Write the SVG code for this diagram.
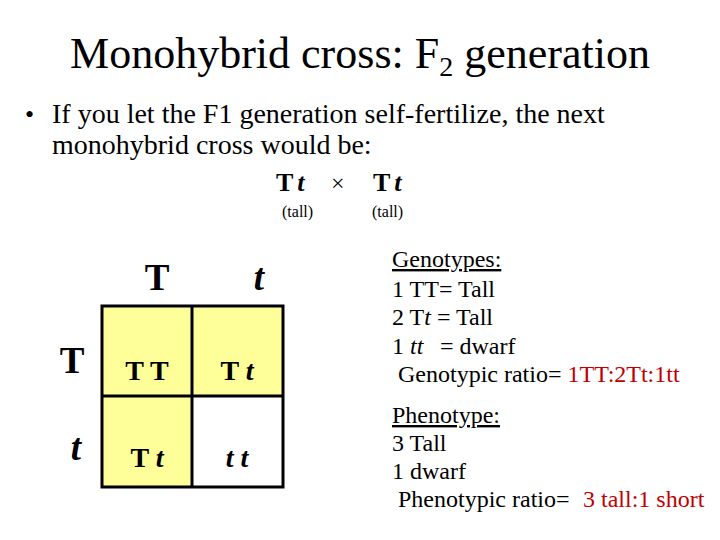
<svg xmlns="http://www.w3.org/2000/svg" width="720" height="540" viewBox="0 0 720 540">
<style>
text{font-family:"Liberation Serif","Times New Roman",serif;fill:#000}
.b{font-weight:bold}
.i{font-style:italic}
.red{fill:#c00000}
.cell{fill:#ffff99;stroke:none}
.g{stroke:#000;stroke-width:3;fill:none}
.rt{font-size:24px}
.h{font-size:37px;font-weight:bold}
.c{font-size:28px;font-weight:bold}
</style>
<rect width="720" height="540" fill="#fff"/>
<g id="title">
<text x="360" y="68" font-size="44" text-anchor="middle">Monohybrid cross: F<tspan font-size="28" dy="8">2</tspan><tspan dy="-8"> generation</tspan></text>
</g>
<g id="bullet">
<text x="25" y="123" font-size="26">•</text>
<text x="52" y="123" font-size="28">If you let the F1 generation self-fertilize, the next</text>
<text x="52" y="154" font-size="28">monohybrid cross would be:</text>
</g>
<g id="cross">
<text x="276" y="191" font-size="26" class="b">T<tspan class="i" dx="4">t</tspan></text>
<text x="331" y="191" font-size="24">×</text>
<text x="373" y="191" font-size="26" class="b">T<tspan class="i" dx="4">t</tspan></text>
<text x="282" y="217" font-size="16">(tall)</text>
<text x="372" y="217" font-size="16">(tall)</text>
</g>
<g id="punnett">
<rect class="cell" x="102" y="306" width="181" height="181"/>
<rect x="192" y="396" width="91" height="91" fill="#fff"/>
<rect class="g" x="102" y="306" width="181" height="181"/>
<line class="g" x1="192" y1="306" x2="192" y2="487"/>
<line class="g" x1="102" y1="396" x2="283" y2="396"/>
<text x="157" y="290" class="h" text-anchor="middle">T</text>
<text x="259" y="290" class="h i" text-anchor="middle">t</text>
<text x="72" y="373" class="h" text-anchor="middle">T</text>
<text x="76" y="460" class="h i" text-anchor="middle">t</text>
<text x="147" y="380" class="c" text-anchor="middle">T T</text>
<text x="237" y="380" class="c" text-anchor="middle">T <tspan class="i">t</tspan></text>
<text x="147" y="467" class="c" text-anchor="middle">T <tspan class="i">t</tspan></text>
<text x="237" y="467" class="c i" text-anchor="middle">t t</text>
</g>
<g id="genotypes">
<text x="392" y="267" class="rt" text-decoration="underline">Genotypes:</text>
<text x="392" y="297" class="rt">1 TT= Tall</text>
<text x="392" y="325" class="rt">2 T<tspan class="i">t</tspan> = Tall</text>
<text x="392" y="354" class="rt">1<tspan x="410" class="i">tt</tspan><tspan x="440">= dwarf</tspan></text>
<text x="398" y="382" class="rt">Genotypic ratio= <tspan class="red">1TT:2Tt:1tt</tspan></text>
</g>
<g id="phenotype">
<text x="392" y="423" class="rt" text-decoration="underline">Phenotype:</text>
<text x="392" y="451" class="rt">3 Tall</text>
<text x="392" y="479" class="rt">1 dwarf</text>
<text x="398" y="507" class="rt">Phenotypic ratio=<tspan x="583" class="red">3 tall:1 short</tspan></text>
</g>
</svg>
